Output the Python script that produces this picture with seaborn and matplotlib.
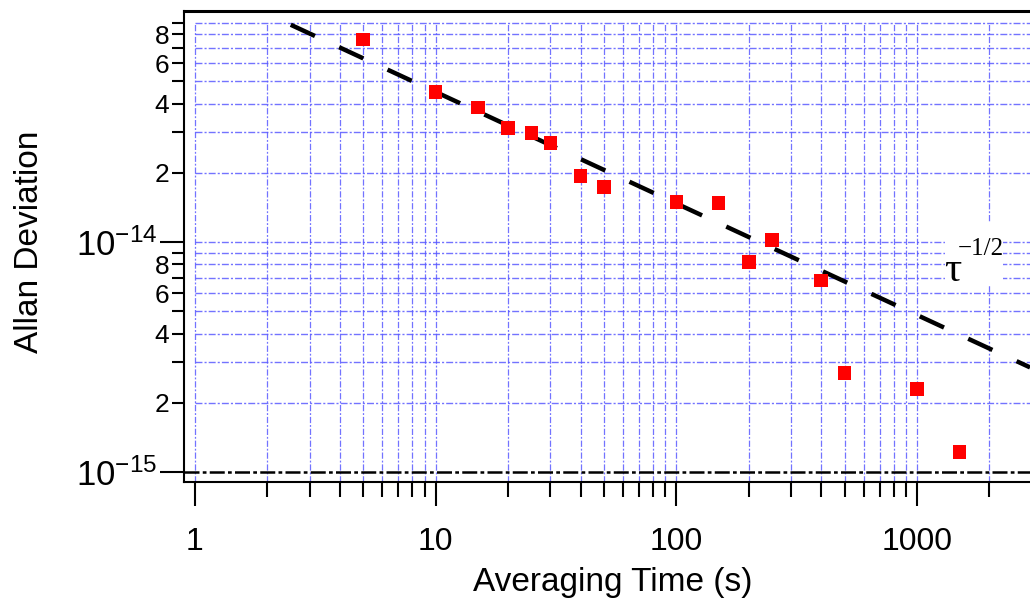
import matplotlib
matplotlib.use("Agg")
import matplotlib.pyplot as plt
from matplotlib.patches import Rectangle
import seaborn as sns

# measured points (averaging time in s, Allan deviation)
tau = [5, 10, 15, 20, 25, 30, 40, 50, 100, 150, 200, 250, 400, 500, 1000, 1500]
adev = [7.6e-14, 4.5e-14, 3.85e-14, 3.13e-14, 2.98e-14, 2.7e-14, 1.94e-14, 1.73e-14,
        1.49e-14, 1.48e-14, 8.2e-15, 1.02e-14, 6.8e-15, 2.7e-15, 2.3e-15, 1.22e-15]

# tau^-1/2 guide line, read at its two ends
fit_tau = [2.5, 2950]
fit_adev = [8.8e-14, 2.85e-15]

# floor line
floor_level = 1e-15

# ticks
x_major = [1, 10, 100, 1000]
x_major_labels = ["1", "10", "100", "1000"]
x_minor = [2, 3, 4, 5, 6, 7, 8, 9, 20, 30, 40, 50, 60, 70, 80, 90,
           200, 300, 400, 500, 600, 700, 800, 900, 2000]
y_major = [1e-15, 1e-14]
y_major_labels = [r"$10^{-15}$", r"$10^{-14}$"]
y_minor = [2e-15, 3e-15, 4e-15, 5e-15, 6e-15, 7e-15, 8e-15, 9e-15,
           2e-14, 3e-14, 4e-14, 5e-14, 6e-14, 7e-14, 8e-14, 9e-14]
y_minor_labels = ["2", "", "4", "", "6", "", "8", "",
                  "2", "", "4", "", "6", "", "8", ""]

XLIM = (0.9, 2948)
YLIM = (9.05e-16, 1.01e-13)

sns.set_style("ticks", {"axes.edgecolor": "black", "text.color": "black",
                        "xtick.color": "black", "ytick.color": "black",
                        "axes.labelcolor": "black"})
plt.rcParams["font.family"] = ["Liberation Sans", "DejaVu Sans"]
plt.rcParams["mathtext.fontset"] = "custom"
plt.rcParams["mathtext.rm"] = "Liberation Sans"
plt.rcParams["mathtext.it"] = "Liberation Sans:italic"
plt.rcParams["mathtext.bf"] = "Liberation Sans:bold"

fig = plt.figure(figsize=(10.3, 6.05), dpi=100)
ax = fig.add_axes([0.1786, 0.2033, 0.8214, 0.7785])
ax.set_xscale("log")
ax.set_yscale("log")
ax.set_xlim(*XLIM)
ax.set_ylim(*YLIM)

# grid, only inside the tick range like the original
grid_color = "#5a5aff"
grid_ls = (0, (5, 1.5, 1.5, 1.5))
ax.hlines(y_major[1:] + y_minor, xmin=1, xmax=XLIM[1], colors=grid_color,
          linewidth=1.0, linestyles=[grid_ls], zorder=0.5, alpha=0.85)
ax.vlines(x_major + x_minor, ymin=YLIM[0], ymax=9e-14, colors=grid_color,
          linewidth=0.9, linestyles=[grid_ls], zorder=0.5, alpha=0.85)
ax.axhline(floor_level, color="black", linewidth=1.8,
           linestyle=(0, (6, 1.3, 1.5, 1.3)), zorder=1.5)

sns.lineplot(x=fit_tau, y=fit_adev, ax=ax, color="black", linewidth=3.2,
             linestyle=(0, (6, 6)), estimator=None, sort=False, zorder=2)
sns.scatterplot(x=tau, y=adev, ax=ax, marker="s", s=95, color="red",
                edgecolor="none", linewidth=0, zorder=3)

# label with white background
ax.add_patch(Rectangle((0.8995, 0.418), 0.0686, 0.134, transform=ax.transAxes,
                       facecolor="white", edgecolor="none", zorder=1))
ax.text(0.8985, 0.427, "τ", transform=ax.transAxes, fontsize=31,
        family=["Liberation Serif", "DejaVu Serif"], ha="left", va="baseline", zorder=4)
ax.text(0.9145, 0.481, "−1/2", transform=ax.transAxes, fontsize=18,
        family=["Liberation Serif", "DejaVu Serif"], ha="left", va="baseline", zorder=4)

# ticks
ax.set_xticks(x_major, labels=x_major_labels)
ax.set_xticks(x_minor, labels=[""] * len(x_minor), minor=True)
ax.set_yticks(y_major, labels=y_major_labels)
ax.set_yticks(y_minor, labels=y_minor_labels, minor=True)
ax.tick_params(axis="x", which="major", length=17.5, width=1.5, labelsize=23, pad=15)
ax.tick_params(axis="x", which="minor", length=10.5, width=1.5)
ax.tick_params(axis="y", which="major", length=17.3, width=1.5, labelsize=25, pad=2)
ax.tick_params(axis="y", which="minor", length=8.6, width=1.5, labelsize=19, pad=2)

for side in ["left", "bottom"]:
    ax.spines[side].set_linewidth(1.5)
ax.spines["top"].set_linewidth(2.2)
ax.spines["right"].set_visible(False)

ax.set_xlabel("Averaging Time (s)", fontsize=24)
ax.set_ylabel("Allan Deviation", fontsize=24)
ax.xaxis.set_label_coords(0.507, -0.214)
ax.xaxis.label.set_va("center")
ax.yaxis.set_label_coords(-0.182, 0.51)
ax.yaxis.label.set_va("center")

fig.savefig("out.png", dpi=100)
